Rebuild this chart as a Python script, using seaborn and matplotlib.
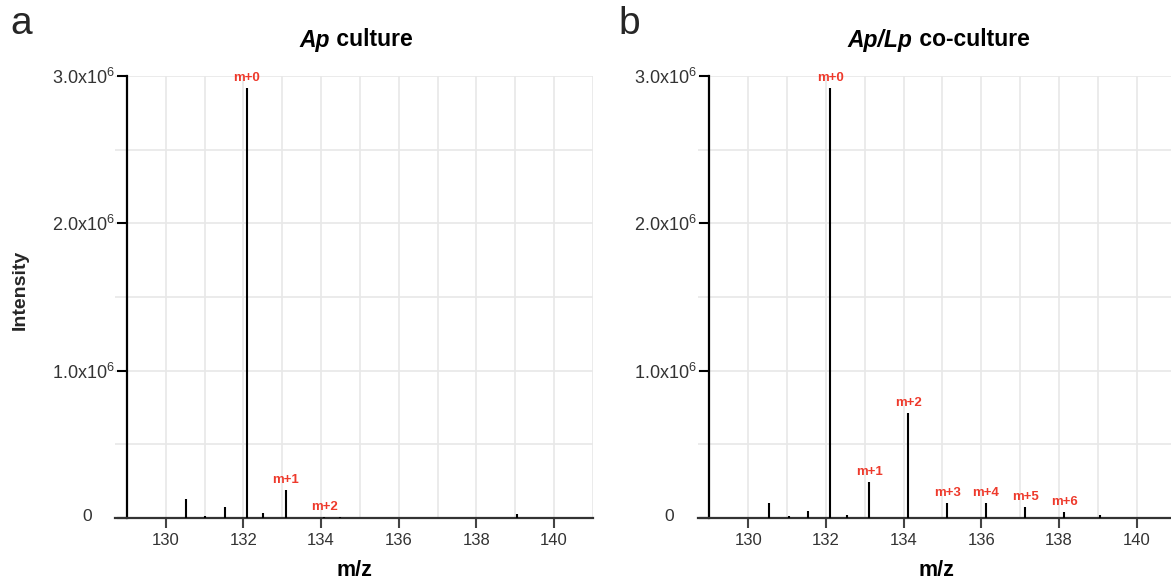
import numpy as np
import pandas as pd
import seaborn as sns
import matplotlib
matplotlib.use("Agg")
import matplotlib.pyplot as plt
from matplotlib.ticker import FixedLocator, MultipleLocator

# ---------------- data ----------------
mz_a = [130.53, 131.01, 131.52, 132.09, 132.51, 133.09, 134.08, 134.50, 135.09, 137.06, 139.04]
int_a = [1.3e5, 1.6e4, 7.5e4, 2.92e6, 3.2e4, 1.9e5, 7e3, 4e3, 3e3, 3e3, 2.5e4]
lab_a = ["", "", "", "m+0", "", "m+1", "m+2", "", "", "", ""]

mz_b = [130.53, 131.05, 131.53, 132.11, 132.53, 133.11, 134.12, 135.12, 136.12, 137.13, 138.14, 139.06]
int_b = [1.0e5, 1.2e4, 4.5e4, 2.92e6, 1.8e4, 2.43e5, 7.14e5, 1.0e5, 1.04e5, 7.3e4, 3.9e4, 1.8e4]
lab_b = ["", "", "", "m+0", "", "m+1", "m+2", "m+3", "m+4", "m+5", "m+6", ""]

title_italic = ["Ap", "Ap/Lp"]
title_rest = [" culture", " co-culture"]
panel_letters = ["a", "b"]
yticks = [0, 1e6, 2e6, 3e6]
ytick_labels = ["", r"1.0x10$^{6}$", r"2.0x10$^{6}$", r"3.0x10$^{6}$"]
zero_label = "0"
xticks = [130, 132, 134, 136, 138, 140]

# ---------------- style ----------------
sns.set_theme(style="whitegrid")
plt.rcParams["font.family"] = ["Liberation Sans", "DejaVu Sans"]
plt.rcParams["mathtext.fontset"] = "custom"
plt.rcParams["mathtext.rm"] = "Liberation Sans"
plt.rcParams["mathtext.it"] = "Liberation Sans:italic"
plt.rcParams["mathtext.bf"] = "Liberation Sans:bold"

RED = "#EE3A2C"
GRID = "#e8e8e8"

fig = plt.figure(figsize=(11.71, 5.80), dpi=100)
renderer = fig.canvas.get_renderer()
positions = [[0.0984, 0.1069, 0.4079, 0.762], [0.5959, 0.1069, 0.4079, 0.762]]
datasets = [(mz_a, int_a, lab_a), (mz_b, int_b, lab_b)]

for i, (pos, (mz, inten, labs)) in enumerate(zip(positions, datasets)):
    ax = fig.add_axes(pos)
    df = pd.DataFrame({"mz": mz, "intensity": inten, "label": labs})
    ax.vlines(df["mz"], 0, df["intensity"], color="black", lw=1.5, zorder=3)
    for _, r in df[df["label"] != ""].iterrows():
        ax.annotate(r["label"], (r["mz"], r["intensity"]), xytext=(0, 3),
                    textcoords="offset points", ha="center", va="bottom",
                    color=RED, fontsize=9.5, fontweight="bold", zorder=4)

    ax.set_xlim(128.7, 141.0)
    ax.set_ylim(0, 3e6)
    ax.xaxis.set_major_locator(FixedLocator(xticks))
    ax.xaxis.set_minor_locator(MultipleLocator(1))
    ax.yaxis.set_major_locator(FixedLocator(yticks))
    ax.yaxis.set_minor_locator(FixedLocator([0.5e6, 1.5e6, 2.5e6]))
    ax.set_yticklabels(ytick_labels)
    ax.grid(which="both", color=GRID, lw=1.2)
    ax.set_axisbelow(True)

    # zero label sits further left than the other y tick labels
    ax.annotate(zero_label, (129, 0), xytext=(-40, 1), textcoords="offset pixels",
                ha="center", va="center", fontsize=12.5, color="#333333",
                annotation_clip=False)

    for s in ["top", "right"]:
        ax.spines[s].set_visible(False)
    ax.spines["left"].set_position(("data", 129))
    ax.spines["left"].set_bounds(0, 3e6)
    ax.spines["left"].set_color("black")
    ax.spines["left"].set_linewidth(1.6)
    ax.spines["bottom"].set_color("#333333")
    ax.spines["bottom"].set_linewidth(1.6)

    ax.tick_params(axis="y", which="major", length=7, width=1.5, color="black",
                   labelsize=13, labelcolor="#333333", pad=2, left=True)
    ax.tick_params(axis="x", which="major", length=7, width=1.5, color="#444444",
                   labelsize=12, labelcolor="#333333", pad=4, bottom=True)
    ax.tick_params(which="minor", length=0)
    ax.set_xlabel("")
    ax.set_ylabel("")

    # title: italic-bold part + bold part, centred together over the axes
    cx_px = (pos[0] + pos[2] / 2) * 1171
    ty = 1 - 40 / 580
    t1 = fig.text(0, ty, title_italic[i], ha="left", va="center", fontsize=16.5,
                  fontweight="bold", fontstyle="italic", color="black")
    t2 = fig.text(0, ty, title_rest[i], ha="left", va="center", fontsize=16.5,
                  fontweight="bold", color="black")
    w1 = t1.get_window_extent(renderer).width
    w2 = t2.get_window_extent(renderer).width
    x0 = cx_px - (w1 + w2) / 2 + 2
    t1.set_x(x0 / 1171)
    t2.set_x((x0 + w1) / 1171)

    fig.text(pos[0] + pos[2] / 2, 1 - 570 / 580, "m/z", ha="center", va="center",
             fontsize=15.5, fontweight="bold", color="black")

fig.text(10 / 1171, 1 - 34 / 580, panel_letters[0], ha="left", va="baseline", fontsize=28)
fig.text(618 / 1171, 1 - 34 / 580, panel_letters[1], ha="left", va="baseline", fontsize=28)
fig.text(20 / 1171, 1 - 290 / 580, "Intensity", ha="center", va="center",
         rotation=90, fontsize=14, fontweight="bold")

fig.savefig("out.png", dpi=100)
